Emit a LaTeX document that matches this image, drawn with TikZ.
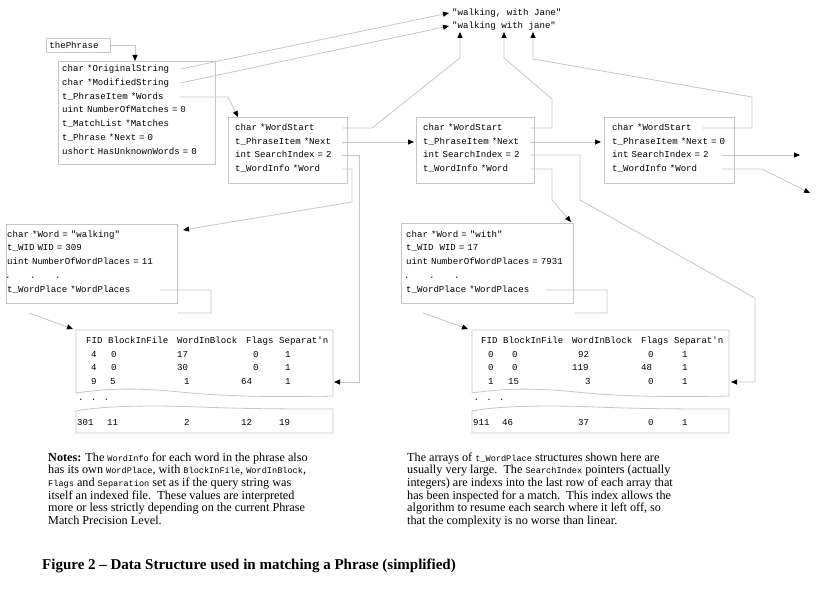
\documentclass[tikz,border=0pt]{standalone}
\usepackage{fontspec}
\setmainfont{Liberation Serif}
\newfontfamily\monof{Liberation Mono}[WordSpace={1,0,0}]
\usetikzlibrary{arrows.meta}
\definecolor{ln}{gray}{0.78}
\newcommand{\nmono}[1]{{\monof\fontsize{8.6}{10}\selectfont #1}}
\newcommand{\bxf}{\monof\fontsize{9.1}{10}\selectfont}
\begin{document}
\begin{tikzpicture}[x=1pt,y=-1pt,
  conn/.style={draw=ln, line width=0.8pt},
  arr/.style={conn, -{Triangle[length=6pt,width=5pt,color=black]}},
  box/.style={draw=ln, line width=0.8pt, inner sep=0pt, anchor=north west},
  fld/.style={anchor=west, inner sep=0pt, text height=6.5pt, text depth=1.5pt, font=\bxf, text width=#1, align=left},
  fld/.default=150pt,
  cell/.style={anchor=west, inner sep=0pt, text height=6.5pt, text depth=1.5pt, font=\bxf},
  note/.style={anchor=base west, inner sep=0pt, font=\fontsize{12.2}{13}\selectfont},
]
\fill[white] (0,0) rectangle (819,591);
\useasboundingbox (0,0) rectangle (819,591);

% coordinates for free ends
\coordinate (u1) at (460,32);
\coordinate (u2) at (504,32);
\coordinate (u3) at (533,32);
\coordinate (w1in) at (183,230);
\coordinate (w2in) at (571,222);
\coordinate (t1in) at (73,329);
\coordinate (t1r) at (334,382);
\coordinate (t2in) at (468,329);
\coordinate (t2r) at (731,382);
\coordinate (e1) at (800,155);
\coordinate (e2) at (810,193);

% strings
\node[anchor=west, inner xsep=3pt, inner ysep=0pt, font=\bxf] (s1) at (449,13) {"walking, with Jane"};
\node[anchor=west, inner xsep=3pt, inner ysep=0pt, font=\bxf] (s2) at (449,26) {"walking with jane"};

% thePhrase
\node[box, minimum height=14pt, text width=58pt, inner xsep=3pt, align=left, font=\bxf] (tp) at (46,38) {thePhrase};

% Box 1
\node[box, minimum width=157pt, minimum height=103pt] (B1) at (58,61) {};
\node[fld=118pt] (f11) at (62,69) {char *OriginalString};
\node[fld=118pt] (f12) at (62,83) {char *ModifiedString};
\node[fld=118pt] (f13) at (62,97) {t\_PhraseItem *Words};
\node[fld=148pt] (f14) at (62,110) {uint NumberOfMatches = 0};
\node[fld=148pt] (f15) at (62,124) {t\_MatchList *Matches};
\node[fld=148pt] (f16) at (62,138) {t\_Phrase *Next = 0};
\node[fld=148pt] (f17) at (62,152) {ushort HasUnknownWords = 0};

% Box 2
\node[box, minimum width=119pt, minimum height=66pt] (B2) at (228,117) {};
\node[fld=107pt] (f21) at (235,128) {char *WordStart};
\node[fld=107pt] (f22) at (235,142) {t\_PhraseItem *Next};
\node[fld=107pt] (f23) at (235,155) {int SearchIndex = 2};
\node[fld=107pt] (f24) at (235,169) {t\_WordInfo *Word};

% Box 3
\node[box, minimum width=118pt, minimum height=66pt] (B3) at (416,117) {};
\node[fld=107pt] (f31) at (423,128) {char *WordStart};
\node[fld=107pt] (f32) at (423,142) {t\_PhraseItem *Next};
\node[fld=107pt] (f33) at (423,155) {int SearchIndex = 2};
\node[fld=107pt] (f34) at (423,169) {t\_WordInfo *Word};

% Box 4
\node[box, minimum width=130pt, minimum height=66pt] (B4) at (604,117) {};
\node[fld=90pt] (f41) at (612,128) {char *WordStart};
\node[fld=120pt] (f42) at (612,142) {t\_PhraseItem *Next = 0};
\node[fld=110pt] (f43) at (612,155) {int SearchIndex = 2};
\node[fld=110pt] (f44) at (612,169) {t\_WordInfo *Word};

% WordInfo 1
\node[box, minimum width=171pt, minimum height=79pt] (W1) at (6,224) {};
\node[fld=160pt] (g11) at (7,235) {char *Word = "walking"};
\node[fld=160pt] (g12) at (7,248) {t\_WID WID = 309};
\node[fld=160pt] (g13) at (7,262) {uint NumberOfWordPlaces = 11};
\node[fld=160pt] (g14) at (5,276) {.\hspace{19.5pt}.\hspace{19.5pt}.};
\node[fld=153pt] (g15) at (7,290) {t\_WordPlace *WordPlaces};

% WordInfo 2
\node[box, minimum width=172pt, minimum height=80pt] (W2) at (401,223) {};
\node[fld=160pt] (g21) at (406,235) {char *Word = "with"};
\node[fld=160pt] (g22) at (406,248) {t\_WID~ WID = 17};
\node[fld=160pt] (g23) at (406,262) {uint NumberOfWordPlaces = 7931};
\node[fld=160pt] (g24) at (404,276) {.\hspace{19.5pt}.\hspace{19.5pt}.};
\node[fld=139pt] (g25) at (406,290) {t\_WordPlace *WordPlaces};

% Tables outlines
\foreach \dx in {0,396}{
  \begin{scope}[xshift=\dx pt]
  \draw[conn] (76,393) -- (76,330) -- (333,330) -- (333,396)
     .. controls (280,397) and (230,397) .. (180,392)
     .. controls (140,388) and (110,388) .. (76,393);
  \draw[conn] (76,411) .. controls (100,406) and (150,405) .. (200,407)
     .. controls (250,409) and (290,409) .. (333,409) -- (333,433) -- (76,433) -- cycle;
  \end{scope}
}

% Table 1 cells
\foreach \x/\y/\t [count=\i] in {
  86/341/FID, 108/341/BlockInFile, 177/341/WordInBlock, 246/341/Flags, 279/341/{Separat\textquotesingle n},
  91/355/4, 111/355/0, 177/355/17, 253/355/0, 285/355/1,
  91/368/4, 111/368/0, 177/368/30, 253/368/0, 285/368/1,
  91/382/9, 110/382/5, 184/382/1, 241/382/64, 285/382/1,
  78/398/{. . .},
  77/423/301, 107/423/11, 184/423/2, 241/423/12, 279/423/19}
  \node[cell] (ta\i) at (\x,\y) {\t};

% Table 2 cells
\foreach \x/\y/\t [count=\i] in {
  481/341/FID, 503/341/BlockInFile, 572/341/WordInBlock, 641/341/Flags, 674/341/{Separat\textquotesingle n},
  488/355/0, 512/355/0, 578/355/92, 648/355/0, 682/355/1,
  488/368/0, 512/368/0, 572/368/119, 641/368/48, 682/368/1,
  488/382/1, 508/382/15, 585/382/3, 648/382/0, 682/382/1,
  473.5/398/{. . .},
  473/423/911, 502/423/46, 578/423/37, 648/423/0, 682/423/1}
  \node[cell] (tb\i) at (\x,\y) {\t};

% connectors
\draw[arr] (tp.east) -| ([xshift=77pt]B1.north west);
\draw[arr] (f11.east) -- (s1.west);
\draw[arr] (f12.east) -- (s2.west);
\draw[arr] (f13.east) -- (228,97) -- ([xshift=10pt]B2.north west);
\draw[arr] (f21.east) -- (372,128) -- (460,58) -- (u1);
\draw[arr] (f22.east) -- ([xshift=-2pt]f22.east -| B3.west);
\draw[arr] (f23.east) -- (359,155) -- (359,382) -- (t1r);
\draw[arr] (f24.east) -- (352,169) -- (352,202) -- (w1in);
\draw[arr] (f31.east) -- (552,128) -- (552,99) -- (504,58) -- (u2);
\draw[arr] (f32.east) -- ([xshift=-3pt]f32.east -| B4.west);
\draw[arr] (f33.east) -- (580,155) -- (580,200) -- (755,298) -- (755,382) -- (t2r);
\draw[arr] (f34.east) -- (552,169) -- (552,200) -- (w2in);
\draw[arr] (f41.east) -- (752,128) -- (752,97) -- (533,59) -- (u3);
\draw[arr] (f43.east) -- (e1);
\draw[arr] (f44.east) -- (762,169) -- (e2);
\draw[arr] (g15.east) -- (211,290) -- (211,313) -- (177,313) (29,313) -- (t1in);
\draw[arr] (g25.east) -- (607,290) -- (607,313) -- (575,313) (423,313) -- (t2in);

% Notes
\node[note] (nl1) at (48,461) {\textbf{Notes:} The \nmono{WordInfo} for each word in the phrase also};
\node[note] (nl2) at (48,473.7) {has its own \nmono{WordPlace}, with \nmono{BlockInFile}, \nmono{WordInBlock},};
\node[note] (nl3) at (48,486.4) {\nmono{Flags} and \nmono{Separation} set as if the query string was};
\node[note] (nl4) at (48,499.1) {itself an indexed file.\ \ These values are interpreted};
\node[note] (nl5) at (48,511.8) {more or less strictly depending on the current Phrase};
\node[note] (nl6) at (48,524.5) {Match Precision Level.};

\node[note] (nr1) at (407,461) {The arrays of \nmono{t\_WordPlace} structures shown here are};
\node[note] (nr2) at (407,473.7) {usually very large.\ \ The \nmono{SearchIndex} pointers (actually};
\node[note] (nr3) at (407,486.4) {integers) are indexs into the last row of each array that};
\node[note] (nr4) at (407,499.1) {has been inspected for a match.\ \ This index allows the};
\node[note] (nr5) at (407,511.8) {algorithm to resume each search where it left off, so};
\node[note] (nr6) at (407,524.5) {that the complexity is no worse than linear.};

% Caption
\node[anchor=base west, inner sep=0pt, font=\fontsize{15}{17}\selectfont\bfseries] (cap) at (42,569) {Figure 2 – Data Structure used in matching a Phrase (simplified)};
\end{tikzpicture}
\end{document}
